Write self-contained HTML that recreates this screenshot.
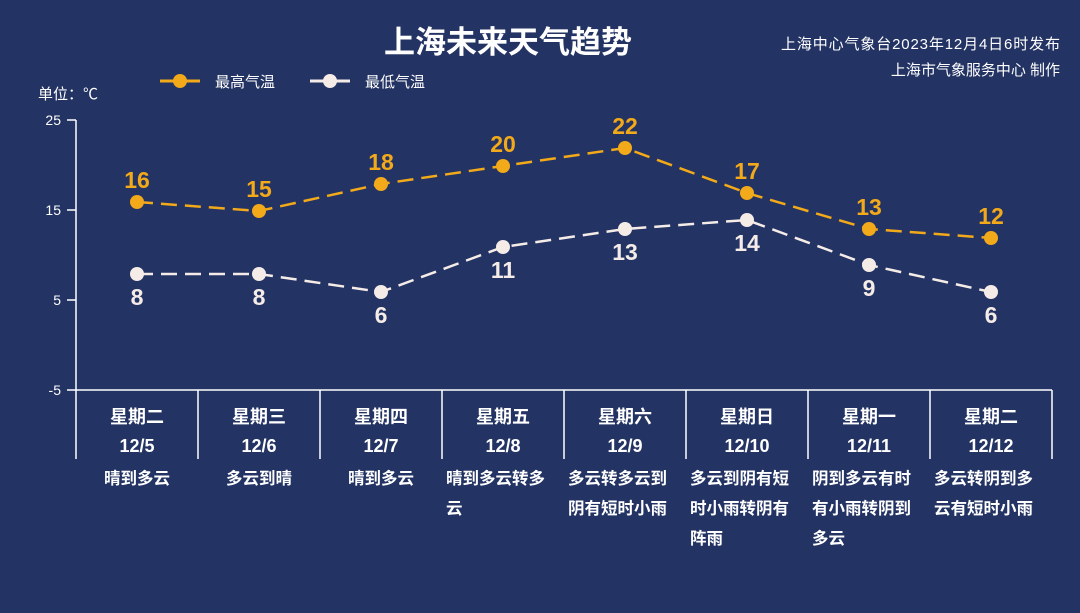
<!DOCTYPE html>
<html><head><meta charset="utf-8"><style>
html,body{margin:0;padding:0;background:#233363;}
svg{display:block;font-family:"Liberation Sans","Noto Sans CJK SC",sans-serif;}
</style></head><body>
<svg width="1080" height="613" viewBox="0 0 1080 613" xmlns="http://www.w3.org/2000/svg">
<rect width="1080" height="613" fill="#233363"/>
<text x="508" y="53" text-anchor="middle" fill="#fff" font-size="31" font-weight="bold">上海未来天气趋势</text>
<text x="1060" y="49" text-anchor="end" fill="#fff" font-size="15" textLength="279">上海中心气象台2023年12月4日6时发布</text>
<text x="1060" y="75" text-anchor="end" fill="#fff" font-size="15">上海市气象服务中心 制作</text>
<text x="38" y="99" fill="#fff" font-size="15">单位：℃</text>
<line x1="160" y1="81" x2="200" y2="81" stroke="#f2a91a" stroke-width="3"/><circle cx="180" cy="81" r="7" fill="#f2a91a"/>
<text x="215" y="87" fill="#fff" font-size="15">最高气温</text>
<line x1="310" y1="81" x2="350" y2="81" stroke="#f5ece8" stroke-width="3"/><circle cx="330" cy="81" r="7" fill="#f5ece8"/>
<text x="365" y="87" fill="#fff" font-size="15">最低气温</text>
<g stroke="#fff" stroke-width="1.5">
<line x1="76" y1="120" x2="76" y2="459"/>
<line x1="67" y1="120" x2="76" y2="120"/><line x1="67" y1="210" x2="76" y2="210"/><line x1="67" y1="300" x2="76" y2="300"/>
<line x1="67" y1="390" x2="1052" y2="390"/>
<line x1="198" y1="390" x2="198" y2="459"/><line x1="320" y1="390" x2="320" y2="459"/><line x1="442" y1="390" x2="442" y2="459"/><line x1="564" y1="390" x2="564" y2="459"/><line x1="686" y1="390" x2="686" y2="459"/><line x1="808" y1="390" x2="808" y2="459"/><line x1="930" y1="390" x2="930" y2="459"/><line x1="1052" y1="390" x2="1052" y2="459"/>
</g>
<g fill="#fff" font-size="14" text-anchor="end">
<text x="61" y="125">25</text><text x="61" y="215">15</text><text x="61" y="305">5</text><text x="61" y="395">-5</text>
</g>
<polyline points="137,202 259,211 381,184 503,166 625,148 747,193 869,229 991,238" fill="none" stroke="#f2a91a" stroke-width="2.5" stroke-dasharray="16,8"/>
<polyline points="137,274 259,274 381,292 503,247 625,229 747,220 869,265 991,292" fill="none" stroke="#f5ece8" stroke-width="2.5" stroke-dasharray="16,8"/>
<g fill="#f2a91a"><circle cx="137" cy="202" r="7"/><circle cx="259" cy="211" r="7"/><circle cx="381" cy="184" r="7"/><circle cx="503" cy="166" r="7"/><circle cx="625" cy="148" r="7"/><circle cx="747" cy="193" r="7"/><circle cx="869" cy="229" r="7"/><circle cx="991" cy="238" r="7"/></g>
<g fill="#f5ece8"><circle cx="137" cy="274" r="7"/><circle cx="259" cy="274" r="7"/><circle cx="381" cy="292" r="7"/><circle cx="503" cy="247" r="7"/><circle cx="625" cy="229" r="7"/><circle cx="747" cy="220" r="7"/><circle cx="869" cy="265" r="7"/><circle cx="991" cy="292" r="7"/></g>
<g fill="#f2a91a" font-size="23" font-weight="bold" text-anchor="middle">
<text x="137" y="188">16</text><text x="259" y="197">15</text><text x="381" y="170">18</text><text x="503" y="152">20</text><text x="625" y="134">22</text><text x="747" y="179">17</text><text x="869" y="215">13</text><text x="991" y="224">12</text>
</g>
<g fill="#f5ece8" font-size="23" font-weight="bold" text-anchor="middle">
<text x="137" y="305">8</text><text x="259" y="305">8</text><text x="381" y="323">6</text><text x="503" y="278">11</text><text x="625" y="260">13</text><text x="747" y="251">14</text><text x="869" y="296">9</text><text x="991" y="323">6</text>
</g>
<g fill="#fff" font-size="18" font-weight="bold" text-anchor="middle">
<text x="137" y="423">星期二</text><text x="259" y="423">星期三</text><text x="381" y="423">星期四</text><text x="503" y="423">星期五</text><text x="625" y="423">星期六</text><text x="747" y="423">星期日</text><text x="869" y="423">星期一</text><text x="991" y="423">星期二</text>
<text x="137" y="452">12/5</text><text x="259" y="452">12/6</text><text x="381" y="452">12/7</text><text x="503" y="452">12/8</text><text x="625" y="452">12/9</text><text x="747" y="452">12/10</text><text x="869" y="452">12/11</text><text x="991" y="452">12/12</text>
</g>
<g fill="#fff" font-size="16.5" font-weight="bold">
<text x="137" y="484" text-anchor="middle">晴到多云</text>
<text x="259" y="484" text-anchor="middle">多云到晴</text>
<text x="381" y="484" text-anchor="middle">晴到多云</text>
<text x="446" y="484">晴到多云转多</text><text x="446" y="514">云</text>
<text x="568" y="484">多云转多云到</text><text x="568" y="514">阴有短时小雨</text>
<text x="690" y="484">多云到阴有短</text><text x="690" y="514">时小雨转阴有</text><text x="690" y="544">阵雨</text>
<text x="812" y="484">阴到多云有时</text><text x="812" y="514">有小雨转阴到</text><text x="812" y="544">多云</text>
<text x="934" y="484">多云转阴到多</text><text x="934" y="514">云有短时小雨</text>
</g>
</svg>
</body></html>
